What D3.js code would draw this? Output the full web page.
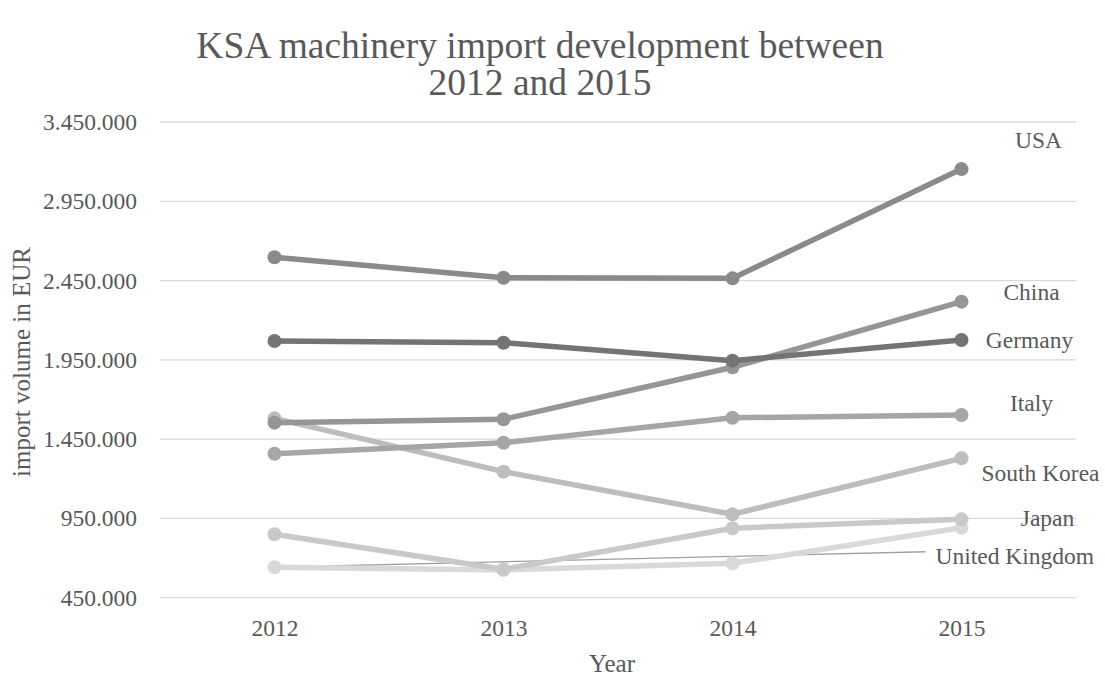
<!DOCTYPE html>
<html>
<head>
<meta charset="utf-8">
<script src="https://cdn.jsdelivr.net/npm/d3@7"></script>
<style>
  body { margin: 0; background: #fff; }
  svg { display: block; }
  text { font-family: "Liberation Serif", "Times New Roman", serif; fill: #595959; }
</style>
</head>
<body>
<svg id="chart" width="1105" height="677"></svg>
<script>
const years = ["2012", "2013", "2014", "2015"];
const yTicks = [450000, 950000, 1450000, 1950000, 2450000, 2950000, 3450000];
const seriesNames = ["USA", "Germany", "China", "Italy", "South Korea", "Japan", "United Kingdom"];
const usa = [2597000, 2468000, 2464000, 3153000];
const germany = [2069000, 2058000, 1945000, 2075000];
const china = [1554000, 1575000, 1903000, 2317000];
const italy = [1358000, 1427000, 1585000, 1602000];
const southKorea = [1581000, 1245000, 976000, 1329000];
const japan = [850000, 629000, 888000, 944000];
const unitedKingdom = [642000, 625000, 667000, 891000];
const seriesValues = [usa, germany, china, italy, southKorea, japan, unitedKingdom];
const colors = ["#8a8a8a", "#747474", "#969696", "#a6a6a6", "#bdbdbd", "#c9c9c9", "#d9d9d9"];
// label positions (offsets from last point), in px
const labelOffsets = [[77, -29], [68, 0], [70, -10], [70, -12], [79, 14], [86, -2], [-26, 28]];

const svg = d3.select("#chart");
const margin = { left: 160, right: 1076, top: 122, bottom: 597.7 };

const x = d3.scalePoint().domain(years).range([margin.left, margin.right]).padding(0.5);
const y = d3.scaleLinear().domain([450000, 3450000]).range([margin.bottom, margin.top]);

const fmt = v => d3.format(",")(v).replace(/,/g, ".");
const FONT = '"Liberation Serif", "Times New Roman", serif';

// gridlines
svg.append("g").selectAll("line").data(yTicks).join("line")
  .attr("x1", margin.left).attr("x2", margin.right)
  .attr("y1", d => y(d)).attr("y2", d => y(d))
  .attr("stroke", "#d9d9d9").attr("stroke-width", 1.3);

// y tick labels
const yAxis = d3.axisLeft(y).tickValues(yTicks).tickFormat(fmt).tickSize(0).tickPadding(23);
const gy = svg.append("g").attr("transform", `translate(${margin.left},0)`).call(yAxis);
gy.select(".domain").remove();
gy.attr("font-family", null).attr("font-size", null);
gy.selectAll("text").attr("font-size", 23.5).attr("fill", "#595959").style("font-family", FONT);

// x tick labels
const xAxis = d3.axisBottom(x).tickSize(0).tickPadding(22);
const gx = svg.append("g").attr("transform", `translate(0,${margin.bottom})`).call(xAxis);
gx.select(".domain").remove();
gx.attr("font-family", null).attr("font-size", null);
gx.selectAll("text").attr("font-size", 23.5).attr("fill", "#595959").style("font-family", FONT);

const line = d3.line().x((d, i) => x(years[i])).y(d => y(d));

// leader line for United Kingdom label (from label to the first point)
const ukIdx = 6;
const ukLabelX = x(years[3]) + labelOffsets[ukIdx][0];
svg.append("line")
  .attr("x1", x(years[0])).attr("y1", y(unitedKingdom[0]))
  .attr("x2", ukLabelX - 10).attr("y2", y(unitedKingdom[3]) + 24)
  .attr("stroke", "#a0a0a0").attr("stroke-width", 1.3);

// draw series from bottom to top
const order = [6, 5, 4, 3, 2, 1, 0];
order.forEach(i => {
  const g = svg.append("g");
  g.append("path").datum(seriesValues[i]).attr("d", line)
    .attr("fill", "none").attr("stroke", colors[i]).attr("stroke-width", 5.5)
    .attr("stroke-linejoin", "round");
  g.selectAll("circle").data(seriesValues[i]).join("circle")
    .attr("cx", (d, j) => x(years[j])).attr("cy", d => y(d)).attr("r", 7)
    .attr("fill", colors[i]);
});

// series labels
seriesNames.forEach((name, i) => {
  const vals = seriesValues[i];
  svg.append("text")
    .attr("x", x(years[3]) + labelOffsets[i][0])
    .attr("y", y(vals[3]) + labelOffsets[i][1])
    .attr("dy", "0.35em")
    .attr("text-anchor", i === 6 ? "start" : "middle")
    .attr("font-size", 23.5)
    .attr("fill", "#404040")
    .text(name);
});

// title
const title = svg.append("text").attr("text-anchor", "middle").attr("font-size", 37.5).attr("fill", "#595959");
title.append("tspan").attr("x", 540).attr("y", 58).text("KSA machinery import development between");
title.append("tspan").attr("x", 540).attr("y", 95).text("2012 and 2015");

// axis titles
svg.append("text").attr("x", 612).attr("y", 672).attr("text-anchor", "middle")
  .attr("font-size", 25).attr("fill", "#595959").text("Year");
svg.append("text").attr("transform", "translate(30,362) rotate(-90)").attr("text-anchor", "middle")
  .attr("font-size", 25).attr("fill", "#595959").text("import volume in EUR");
</script>
</body>
</html>
